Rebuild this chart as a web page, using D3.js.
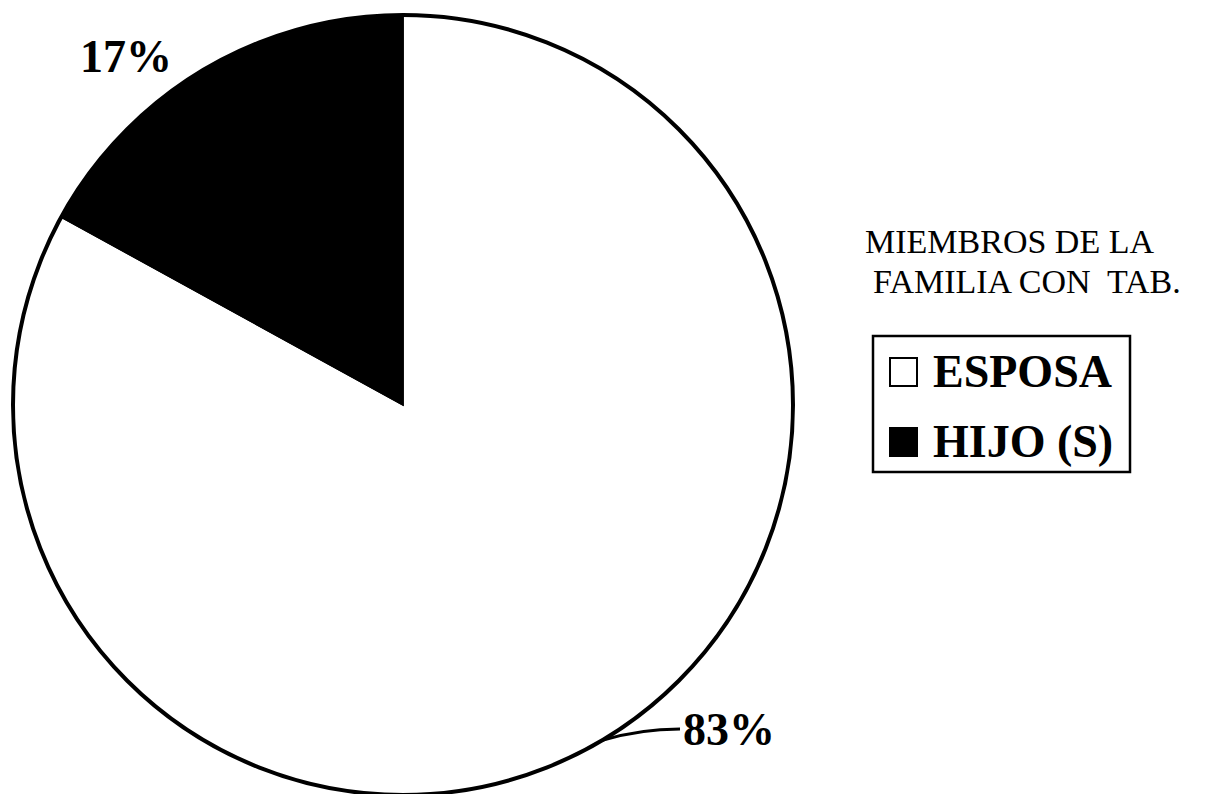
<!DOCTYPE html>
<html>
<head>
<meta charset="utf-8">
<script src="https://cdn.jsdelivr.net/npm/d3@7.9.0/dist/d3.min.js"></script>
<style>
  html, body { margin: 0; padding: 0; background: #fff; }
  svg { display: block; }
</style>
</head>
<body>
<div id="chart"></div>
<script>
// data
const categories = ['ESPOSA', 'HIJO (S)'];
const values = [83, 17];
const colors = ['#ffffff', '#000000'];
const titleLines = ['MIEMBROS DE LA', 'FAMILIA CON  TAB.'];

const width = 1224, height = 794;
const cx = 403, cy = 405, radius = 390;

const svg = d3.select('#chart')
  .append('svg')
  .attr('width', width)
  .attr('height', height);

const pie = d3.pie().sort(null).value(d => d.value);
const arcs = pie(categories.map((c, i) => ({ name: c, value: values[i], color: colors[i] })));

const arc = d3.arc().innerRadius(0).outerRadius(radius);

const g = svg.append('g').attr('transform', `translate(${cx},${cy})`);

g.selectAll('path.slice')
  .data(arcs)
  .join('path')
  .attr('class', 'slice')
  .attr('d', arc)
  .attr('fill', d => d.data.color)
  .attr('stroke', '#000')
  .attr('stroke-width', 1.5);

// outline of the whole pie
g.append('circle')
  .attr('r', radius)
  .attr('fill', 'none')
  .attr('stroke', '#000')
  .attr('stroke-width', 4);

// percentage labels
const labelFont = "'Liberation Serif', 'Times New Roman', serif";

svg.append('text')
  .attr('x', 80)
  .attr('y', 72)
  .attr('font-family', labelFont)
  .attr('font-weight', 'bold')
  .attr('font-size', 46)
  .text(values[1] + '%');

svg.append('text')
  .attr('x', 683)
  .attr('y', 745)
  .attr('font-family', labelFont)
  .attr('font-weight', 'bold')
  .attr('font-size', 46)
  .text(values[0] + '%');

// leader line from 83% label to pie edge
const leaderAngle = 149.3 * Math.PI / 180;
const ex = cx + radius * Math.sin(leaderAngle);
const ey = cy - radius * Math.cos(leaderAngle);
svg.append('path')
  .attr('d', `M${680},${729} Q${640},${729} ${ex},${ey}`)
  .attr('fill', 'none')
  .attr('stroke', '#000')
  .attr('stroke-width', 3);

// legend title
svg.selectAll('text.title')
  .data(titleLines)
  .join('text')
  .attr('class', 'title')
  .attr('x', (d, i) => i === 0 ? 865 : 873)
  .attr('y', (d, i) => 253 + i * 40)
  .attr('font-family', labelFont)
  .attr('font-size', 34)
  .style('white-space', 'pre')
  .attr('xml:space', 'preserve')
  .text(d => d);

// legend box
const legend = svg.append('g');
legend.append('rect')
  .attr('x', 873)
  .attr('y', 336)
  .attr('width', 257)
  .attr('height', 136)
  .attr('fill', '#fff')
  .attr('stroke', '#000')
  .attr('stroke-width', 2.5);

const items = legend.selectAll('g.item')
  .data(categories)
  .join('g')
  .attr('class', 'item')
  .attr('transform', (d, i) => `translate(889, ${357 + i * 70})`);

items.append('rect')
  .attr('x', 1)
  .attr('y', 1)
  .attr('width', 27)
  .attr('height', 28)
  .attr('fill', (d, i) => colors[i])
  .attr('stroke', '#000')
  .attr('stroke-width', 2);

items.append('text')
  .attr('x', 44)
  .attr('y', 30)
  .attr('font-family', labelFont)
  .attr('font-weight', 'bold')
  .attr('font-size', 46)
  .text(d => d);
</script>
</body>
</html>
